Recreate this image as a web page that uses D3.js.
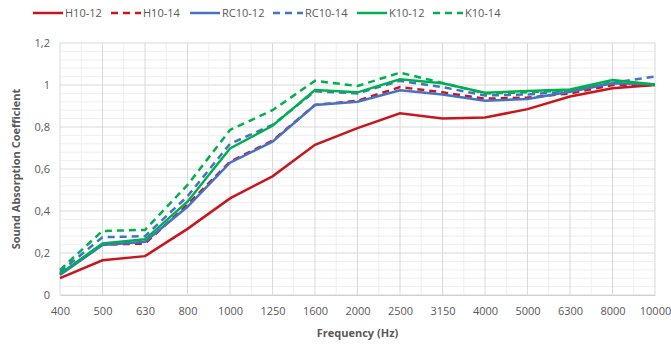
<!DOCTYPE html>
<html>
<head>
<meta charset="utf-8">
<script src="https://cdn.jsdelivr.net/npm/d3@7"></script>
<style>
  body { margin: 0; background: #fff; }
  text { font-family: "Open Sans", "Liberation Sans", sans-serif; }
</style>
</head>
<body>
<div id="chart"></div>
<script>
// Дані
const frequencies = ['400', '500', '630', '800', '1000', '1250', '1600', '2000', '2500', '3150', '4000', '5000', '6300', '8000', '10000'];
const h1012 = [0.08, 0.165, 0.185, 0.315, 0.46, 0.565, 0.715, 0.795, 0.865, 0.84, 0.845, 0.885, 0.945, 0.985, 1.0];
const h1014 = [0.10, 0.24, 0.245, 0.43, 0.635, 0.735, 0.905, 0.925, 0.99, 0.965, 0.935, 0.94, 0.96, 1.0, 1.0];
const rc1012 = [0.095, 0.238, 0.254, 0.42, 0.63, 0.73, 0.905, 0.92, 0.975, 0.955, 0.925, 0.933, 0.968, 1.008, 1.003];
const rc1014 = [0.11, 0.275, 0.28, 0.47, 0.72, 0.81, 0.97, 0.96, 1.02, 0.99, 0.95, 0.955, 0.97, 1.01, 1.04];
const k1012 = [0.10, 0.246, 0.265, 0.444, 0.698, 0.806, 0.976, 0.965, 1.027, 1.008, 0.963, 0.971, 0.979, 1.024, 1.003];
const k1014 = [0.12, 0.305, 0.31, 0.524, 0.786, 0.88, 1.02, 0.995, 1.059, 1.01, 0.96, 0.965, 0.975, 1.02, 1.0];
const yTicks = [0, 0.2, 0.4, 0.6, 0.8, 1, 1.2];

const series = [
  { name: 'H10-12', values: h1012, color: '#C8161D', dash: null },
  { name: 'H10-14', values: h1014, color: '#C8161D', dash: '7,5' },
  { name: 'RC10-12', values: rc1012, color: '#4472C4', dash: null },
  { name: 'RC10-14', values: rc1014, color: '#4472C4', dash: '7,5' },
  { name: 'K10-12', values: k1012, color: '#00B050', dash: null },
  { name: 'K10-14', values: k1014, color: '#00B050', dash: '7,5' }
];

const WIDTH = 671;
const HEIGHT = 346;
const LEFT = 60, RIGHT = 655, TOP = 43, BOTTOM = 295;

const svg = d3.select('#chart').append('svg')
  .attr('width', WIDTH)
  .attr('height', HEIGHT);

const x = d3.scalePoint().domain(frequencies).range([LEFT, RIGHT]);
const y = d3.scaleLinear().domain([0, 1.2]).range([BOTTOM, TOP]);

// Мінорна сітка
const step = x.step();
const minorX = frequencies.slice(1).map(f => x(f) - step / 2);
svg.append('g').selectAll('line').data(minorX).join('line')
  .attr('x1', d => d).attr('x2', d => d)
  .attr('y1', TOP).attr('y2', BOTTOM)
  .attr('stroke', '#efefef').attr('stroke-width', 1);
const minorY = d3.range(0, 1.2, 0.04).filter(v => Math.abs(v / 0.2 - Math.round(v / 0.2)) > 0.01);
svg.append('g').selectAll('line').data(minorY).join('line')
  .attr('x1', LEFT).attr('x2', RIGHT)
  .attr('y1', d => y(d)).attr('y2', d => y(d))
  .attr('stroke', '#efefef').attr('stroke-width', 1);

// Основна сітка
svg.append('g').selectAll('line').data(frequencies).join('line')
  .attr('x1', d => x(d)).attr('x2', d => x(d))
  .attr('y1', TOP).attr('y2', BOTTOM)
  .attr('stroke', '#d9d9d9').attr('stroke-width', 1);
svg.append('g').selectAll('line').data(yTicks).join('line')
  .attr('x1', LEFT).attr('x2', RIGHT)
  .attr('y1', d => y(d)).attr('y2', d => y(d))
  .attr('stroke', '#d9d9d9').attr('stroke-width', 1);

// Осі
const xAxis = svg.append('g')
  .attr('transform', `translate(0,${BOTTOM})`)
  .call(d3.axisBottom(x).tickSize(0).tickPadding(12));
xAxis.select('.domain').attr('stroke', '#d0d0d0');
xAxis.selectAll('text').attr('fill', '#595959').style('font-size', '11px');

const yAxis = svg.append('g')
  .attr('transform', `translate(${LEFT},0)`)
  .call(d3.axisLeft(y).tickValues(yTicks).tickSize(0).tickPadding(10)
    .tickFormat(d => String(d).replace('.', ',')));
yAxis.select('.domain').remove();
yAxis.selectAll('text').attr('fill', '#595959').style('font-size', '11px');

// Лінії
const line = d3.line()
  .x((d, i) => x(frequencies[i]))
  .y(d => y(d));

svg.append('g').selectAll('path').data(series).join('path')
  .attr('fill', 'none')
  .attr('stroke', d => d.color)
  .attr('stroke-width', 2.5)
  .attr('stroke-dasharray', d => d.dash)
  .attr('d', d => line(d.values));

// Назви осей
svg.append('text')
  .attr('x', (LEFT + RIGHT) / 2).attr('y', 337)
  .attr('text-anchor', 'middle')
  .attr('fill', '#595959')
  .style('font-size', '11px').style('font-weight', 'bold')
  .text('Frequency (Hz)');

svg.append('text')
  .attr('transform', `translate(20,${(TOP + BOTTOM) / 2}) rotate(-90)`)
  .attr('text-anchor', 'middle')
  .attr('fill', '#595959')
  .style('font-size', '11px').style('font-weight', 'bold')
  .text('Sound Absorption Coefficient');

// Легенда
const legendX = [33, 111, 190, 273, 357, 433];
const legend = svg.append('g').selectAll('g').data(series).join('g')
  .attr('transform', (d, i) => `translate(${legendX[i]},13)`);
legend.append('line')
  .attr('x1', 0).attr('x2', 30)
  .attr('stroke', d => d.color)
  .attr('stroke-width', 2.5)
  .attr('stroke-dasharray', d => d.dash);
legend.append('text')
  .attr('x', 32).attr('y', 4)
  .attr('fill', '#595959')
  .style('font-size', '11px')
  .text(d => d.name);
</script>
</body>
</html>
